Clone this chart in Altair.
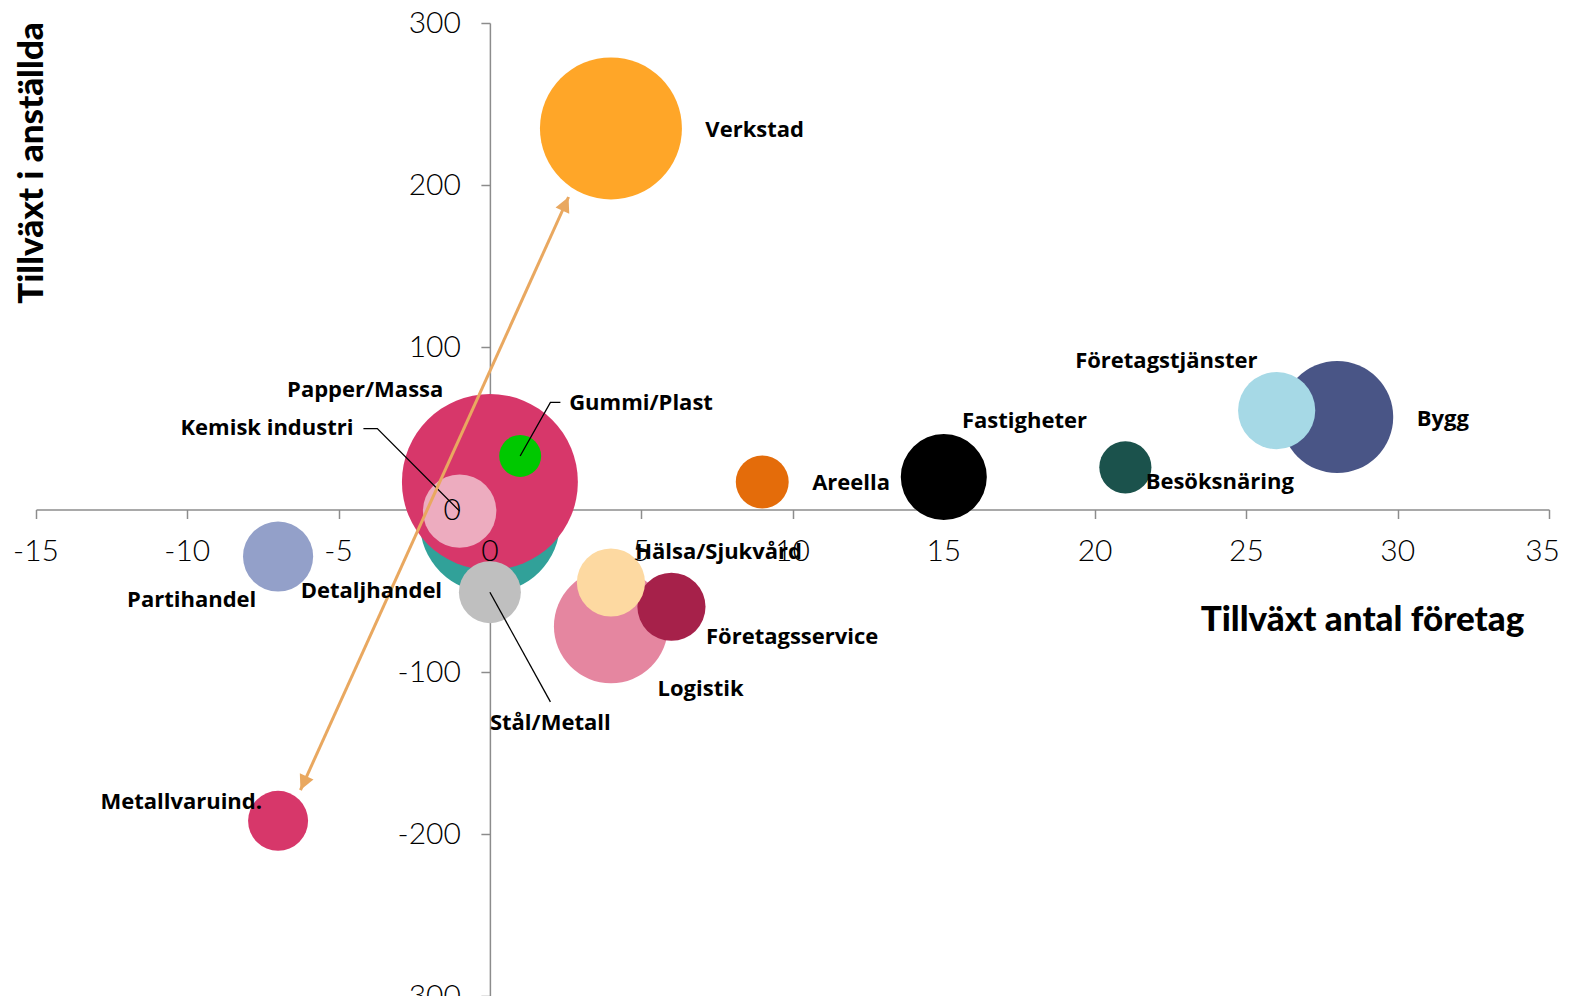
import math
import altair as alt
import pandas as pd

# ---------------- data ----------------
namn = ["Detaljhandel", "Papper/Massa", "Kemisk industri", "Gummi/Plast", "Stål/Metall",
        "Verkstad", "Logistik", "Företagsservice", "Hälsa/Sjukvård", "Areella",
        "Fastigheter", "Besöksnäring", "Bygg", "Företagstjänster", "Partihandel",
        "Metallvaruind."]
tillvaxt_foretag = [0, 0, -1, 1, 0, 4, 4, 6, 4, 9, 15, 21, 28, 26, -7, -7]
tillvaxt_anstallda = [-8, 17, -1, 33, -51, 235, -72, -60, -45, 17, 20, 26, 57, 61, -29, -192]
storlek = [490, 774, 135, 44, 96, 504, 325, 116, 116, 70, 185, 68, 314, 149, 123, 90]
farger = ["#31A199", "#D7376A", "#EDACBF", "#00C800", "#BFBFBF",
          "#FFA628", "#E586A0", "#A6214A", "#FDD9A1", "#E46C0A",
          "#000000", "#1B524C", "#495586", "#A6D9E6", "#93A0C9",
          "#D7376A"]

# label anchor positions (data units) and alignment
etikett_x = [-1.58, -1.54, -4.51, 2.62, 0.0, 7.12, 5.54, 7.14, 4.8, 10.65,
             15.6, 21.67, 30.63, 19.34, -7.72, -7.53]
etikett_y = [-50.2, 73.5, 50.0, 65.5, -131.6, 234, -110.4, -78.9, -26.1, 16.4,
             54.4, 17, 55.5, 91.4, -56, -180.3]
etikett_just = ["right", "right", "right", "left", "left", "left", "left", "left", "left", "left",
                "left", "left", "left", "left", "right", "right"]

# leader lines
linje_id = ["kemisk", "kemisk", "kemisk", "gummi", "gummi", "gummi", "stal", "stal"]
linje_ordning = [0, 1, 2, 0, 1, 2, 0, 1]
linje_x = [-4.18, -3.72, -1.0, 2.33, 2.0, 1.0, 0.0, 2.0]
linje_y = [49.9, 49.9, -1.0, 66.0, 66.0, 33.0, -51.0, -118.6]

# double arrow
pil_x = [-6.26, 2.6]
pil_y = [-173.0, 192.7]

# axis ticks
x_ticks = [-15, -10, -5, 0, 5, 10, 15, 20, 25, 30, 35]
x_tick_labels = ["-15", "-10", "-5", "0", "5", "10", "15", "20", "25", "30", "35"]
y_ticks = [-300, -200, -100, 0, 100, 200, 300]
y_tick_labels = ["-300", "-200", "-100", "0", "100", "200", "300"]

# ---------------- layout ----------------
W, H = 1513, 973
XMIN, XMAX, YMIN, YMAX = -15, 35, -300, 300
xs = alt.Scale(domain=[XMIN, XMAX], nice=False, zero=False)
ys = alt.Scale(domain=[YMIN, YMAX], nice=False, zero=False)
AXCOL = "#8c8c8c"

df = pd.DataFrame({
    "namn": namn, "x": tillvaxt_foretag, "y": tillvaxt_anstallda, "storlek": storlek,
    "z": list(range(len(namn))), "lx": etikett_x, "ly": etikett_y, "just": etikett_just,
})

x_axis = alt.Axis(
    offset=-H / 2, labels=False, grid=False, values=x_ticks,
    domainColor=AXCOL, domainWidth=1.5, tickColor=AXCOL, tickWidth=1.5, tickSize=9,
    title="Tillväxt antal företag", titleFont="Lato", titleFontWeight=900, titleFontSize=35,
    titleColor="black", titleX=1326, titleY=121, titleAlign="center", titleBaseline="alphabetic",
)
y_axis = alt.Axis(
    offset=-(0 - XMIN) / (XMAX - XMIN) * W, labels=False, grid=False, values=y_ticks,
    domainColor=AXCOL, domainWidth=1.5, tickColor=AXCOL, tickWidth=1.5, tickSize=9,
    title="Tillväxt i anställda", titleFont="Lato", titleFontWeight=900, titleFontSize=35,
    titleColor="black", titleAngle=270, titleX=-447, titleY=139.5, titleAlign="center",
    titleBaseline="alphabetic",
)


def X(field):
    return alt.X(field, scale=xs, axis=x_axis)


def Y(field):
    return alt.Y(field, scale=ys, axis=y_axis)


bubblor = alt.Chart(df).mark_circle(opacity=1).encode(
    x=X("x:Q"),
    y=Y("y:Q"),
    size=alt.Size("storlek:Q", scale=alt.Scale(domain=[0, 1000], range=[0, 40000]), legend=None),
    color=alt.Color("namn:N", scale=alt.Scale(domain=namn, range=farger), legend=None),
    order=alt.Order("z:Q"),
)

ldf = pd.DataFrame({"id": linje_id, "o": linje_ordning, "x": linje_x, "y": linje_y})
ledare = alt.Chart(ldf).mark_line(color="black", strokeWidth=1.3).encode(
    x=X("x:Q"), y=Y("y:Q"), detail="id:N", order="o:Q",
)

pdf = pd.DataFrame({"x": [pil_x[0]], "y": [pil_y[0]], "x2": [pil_x[1]], "y2": [pil_y[1]]})
PILFARG = "#E9A860"
pil = alt.Chart(pdf).mark_rule(color=PILFARG, strokeWidth=3).encode(
    x=X("x:Q"), y=Y("y:Q"), x2="x2:Q", y2="y2:Q",
)
dxp = (pil_x[1] - pil_x[0]) / (XMAX - XMIN) * W
dyp = (pil_y[1] - pil_y[0]) / (YMAX - YMIN) * H
vinkel = math.degrees(math.atan2(dxp, dyp))
topp = alt.Chart(pd.DataFrame({"x": [pil_x[1]], "y": [pil_y[1]]})).mark_point(
    shape="M0,0 L0.5,1 L-0.5,1 Z", filled=True, opacity=1, color=PILFARG, size=900, angle=vinkel,
).encode(x=X("x:Q"), y=Y("y:Q"))
botten = alt.Chart(pd.DataFrame({"x": [pil_x[0]], "y": [pil_y[0]]})).mark_point(
    shape="M0,0 L0.5,-1 L-0.5,-1 Z", filled=True, opacity=1, color=PILFARG, size=900, angle=vinkel,
).encode(x=X("x:Q"), y=Y("y:Q"))


def etiketter(just):
    return alt.Chart(df).transform_filter(alt.datum.just == just).mark_text(
        font="Open Sans", fontWeight="bold", fontSize=22, align=just, baseline="middle", color="black",
    ).encode(x=X("lx:Q"), y=Y("ly:Q"), text="namn:N")


xtdf = pd.DataFrame({"v": x_ticks, "lab": x_tick_labels, "nul": [0] * len(x_ticks)})
ytdf = pd.DataFrame({"v": y_ticks, "lab": y_tick_labels, "nul": [0] * len(y_ticks)})
# all x tick labels except the last are centred on their tick
xtext = alt.Chart(xtdf).transform_filter(alt.datum.v < XMAX).mark_text(
    font="Lato", fontWeight=300, fontSize=30, baseline="middle", align="center", dy=42, color="black",
).encode(x=X("v:Q"), y=Y("nul:Q"), text="lab:N")
# the last x tick label is right-aligned so it stays inside the page
xtext_sista = alt.Chart(xtdf).transform_filter(alt.datum.v >= XMAX).mark_text(
    font="Lato", fontWeight=300, fontSize=30, baseline="middle", align="right", dx=11, dy=42, color="black",
).encode(x=X("v:Q"), y=Y("nul:Q"), text="lab:N")
ytext = alt.Chart(ytdf).mark_text(
    font="Lato", fontWeight=300, fontSize=30, baseline="middle", align="right", dx=-29, dy=1, color="black",
).encode(x=X("nul:Q"), y=Y("v:Q"), text="lab:N")

chart = alt.layer(
    bubblor, ledare, pil, topp, botten, etiketter("left"), etiketter("right"),
    xtext, xtext_sista, ytext,
).properties(
    width=W, height=H,
    autosize=alt.AutoSizeParams(type="none"),
    padding={"left": 28, "top": 15, "right": 12, "bottom": 0},
).configure_view(stroke=None)

chart.save("out.html", embed_options={"renderer": "svg", "actions": False})
